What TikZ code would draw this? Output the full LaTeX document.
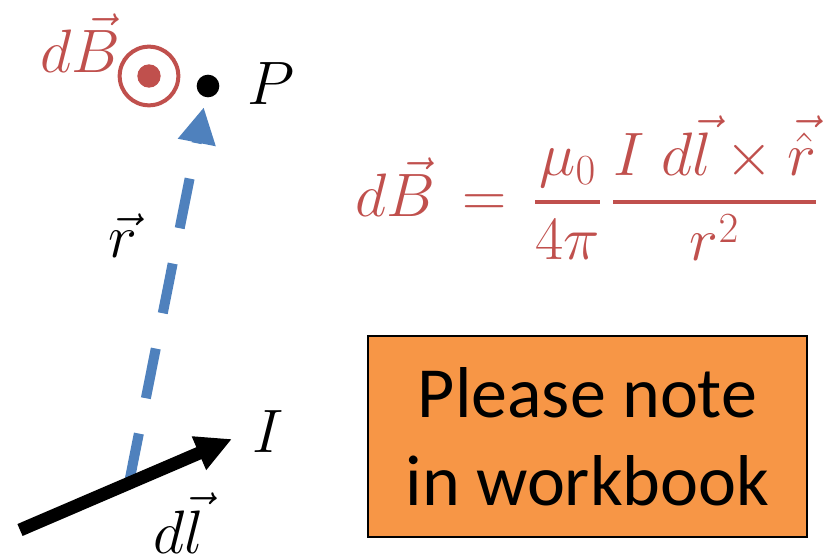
\RequirePackage{fix-cm}
\documentclass[tikz,border=0pt]{standalone}
\usepackage{amsmath}
\usepackage{fontspec}
\usetikzlibrary{arrows.meta,calc}
\newfontfamily\notefont{Carlito}
\definecolor{cRed}{RGB}{192,80,77}
\definecolor{cBlue}{RGB}{79,129,189}
\definecolor{cNote}{RGB}{247,150,70}
\definecolor{cEdge}{RGB}{0,0,0}
\newcommand{\thickfrac}[2]{\genfrac{}{}{2.8pt}{0}{#1}{#2}}
\tikzset{
  lab/.style={inner sep=0pt, font=\fontsize{46}{55}\selectfont},
  labR/.style={lab, text=cRed},
  pointdot/.style={circle, fill=black, inner sep=0pt, minimum size=17pt},
  outring/.style={circle, draw=cRed, line width=3pt, inner sep=0pt, minimum size=44pt},
  inndot/.style={circle, fill=cRed, inner sep=0pt, minimum size=17.5pt},
  notebox/.style={
    rectangle, draw=cEdge, line width=1.5pt, fill=cNote, align=center,
    font=\notefont\fontsize{54}{66}\selectfont, inner sep=0pt,
    minimum width=329pt, minimum height=151pt,
  },
  rarr/.style={-{Triangle[length=27pt,width=27pt]}, line width=7.5pt,
    draw=cBlue, dash pattern=on 38pt off 27pt},
  dlarr/.style={-{Triangle[length=27pt,width=25.5pt]}, line width=9.75pt, draw=black},
}

\begin{document}
\begin{tikzpicture}[x=0.75pt,y=-0.75pt]
\useasboundingbox (0,0) rectangle (827,559);

% ===== point P and field marker =====
\node[pointdot] (pdot) at (208,86) {};
\node[lab, anchor=base west] (Plab) at (247,105) {$P$};
\node[outring] (ring) at (149,76) {};
\node[inndot] (bdot) at (ring.center) {};
\node[labR, anchor=base west] (dBlab) at (40,73) {$d\vec{B}$};

% ===== current element =====
\coordinate (dltail) at (20,530);
\coordinate (dltip) at (232,439);
\coordinate (rtail) at ($(dltail)!0.514!(dltip)$);
\node[lab, anchor=base west] (Ilab) at (252,452) {$I$};
\node[lab, anchor=base west] (dllab) at (153,553) {$d\vec{l}$};
\node[lab, anchor=base west] (rlab) at (108,258) {$\vec{r}$};

% ===== arrows =====
\draw[rarr, shorten >=7.5pt] (rtail) -- (pdot);
\draw[dlarr] (dltail) -- (dltip);

% ===== Biot-Savart law =====
\node[labR, anchor=base west] (law) at (355,217)
  {$d\vec{B}\,=\,\thickfrac{\mu_0}{4\pi}\,\thickfrac{I\;d\vec{l}\times\vec{\hat{r}}}{r^2}$};

% ===== note box =====
\node[notebox] (note) at (587.5,436.5) {Please note\\in workbook};

\end{tikzpicture}
\end{document}
